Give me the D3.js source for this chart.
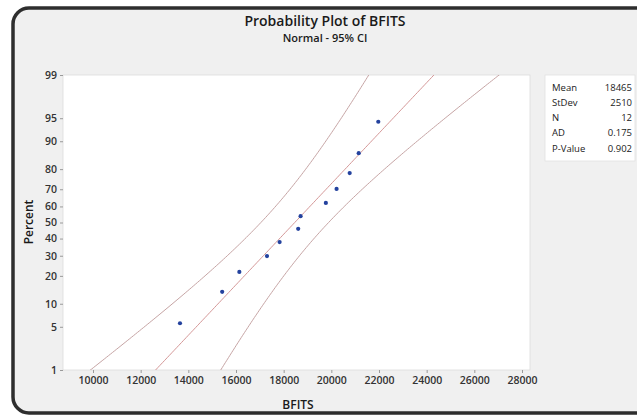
<!DOCTYPE html>
<html>
<head>
<meta charset="utf-8">
<script src="https://cdn.jsdelivr.net/npm/d3@7"></script>
<style>
  html, body { margin: 0; padding: 0; background: #ffffff; }
  svg { display: block; font-family: "Open Sans", "Segoe UI", sans-serif; }
</style>
</head>
<body>
<svg id="chart" width="637" height="418"></svg>
<script>
// Observed BFITS values (sorted) and their plotting positions (median ranks, %)
const bfits = [13650, 15420, 16140, 17300, 17830, 18610, 18710, 19770, 20220, 20770, 21150, 21970];
const percents = [5.6, 13.7, 21.8, 29.8, 37.9, 46.0, 54.0, 62.1, 70.2, 78.2, 86.3, 94.4];

// Fitted normal distribution and summary statistics
const fitMean = 18465;
const fitStDev = 2510;
const sampleN = 12;
const statLabels = ["Mean", "StDev", "N", "AD", "P-Value"];
const statValues = ["18465", "2510", "12", "0.175", "0.902"];

// Axis ticks
const xTicks = [10000, 12000, 14000, 16000, 18000, 20000, 22000, 24000, 26000, 28000];
const yTicks = [1, 5, 10, 20, 30, 40, 50, 60, 70, 80, 90, 95, 99];

// Inverse standard normal CDF (Acklam's rational approximation)
function normInv(p) {
  const a = [-3.969683028665376e+01, 2.209460984245205e+02, -2.759285104469687e+02, 1.383577518672690e+02, -3.066479806614716e+01, 2.506628277459239e+00];
  const b = [-5.447609879822406e+01, 1.615858368580409e+02, -1.556989798598866e+02, 6.680131188771972e+01, -1.328068155288572e+01];
  const c = [-7.784894002430293e-03, -3.223964580411365e-01, -2.400758277161838e+00, -2.549732539343734e+00, 4.374664141464968e+00, 2.938163982698783e+00];
  const d = [7.784695709041462e-03, 3.224671290700398e-01, 2.445134137142996e+00, 3.754408661907416e+00];
  const pl = 0.02425, ph = 1 - pl;
  let q, r;
  if (p < pl) {
    q = Math.sqrt(-2 * Math.log(p));
    return (((((c[0]*q+c[1])*q+c[2])*q+c[3])*q+c[4])*q+c[5]) / ((((d[0]*q+d[1])*q+d[2])*q+d[3])*q+1);
  } else if (p <= ph) {
    q = p - 0.5; r = q * q;
    return (((((a[0]*r+a[1])*r+a[2])*r+a[3])*r+a[4])*r+a[5])*q / (((((b[0]*r+b[1])*r+b[2])*r+b[3])*r+b[4])*r+1);
  } else {
    q = Math.sqrt(-2 * Math.log(1 - p));
    return -(((((c[0]*q+c[1])*q+c[2])*q+c[3])*q+c[4])*q+c[5]) / ((((d[0]*q+d[1])*q+d[2])*q+d[3])*q+1);
  }
}

const svg = d3.select("#chart");

// Outer rounded frame
svg.append("rect")
  .attr("x", 13).attr("y", 8).attr("width", 640).attr("height", 405)
  .attr("rx", 16).attr("ry", 16)
  .attr("fill", "#f0f0f0").attr("stroke", "#2e2e2e").attr("stroke-width", 3.5);

// Plot area
const plot = { left: 63, right: 530, top: 75, bottom: 370 };
svg.append("rect")
  .attr("x", plot.left).attr("y", plot.top)
  .attr("width", plot.right - plot.left).attr("height", plot.bottom - plot.top)
  .attr("fill", "#ffffff").attr("stroke", "#dcdcdc").attr("stroke-width", 0.8);

const x = d3.scaleLinear().domain([10000, 28000]).range([93, 522]);
const zMin = normInv(0.01), zMax = normInv(0.99);
const y = d3.scaleLinear().domain([zMin, zMax]).range([plot.bottom, plot.top]);
const yPct = p => y(normInv(p / 100));

// Titles
svg.append("text").attr("x", 325).attr("y", 26).attr("text-anchor", "middle")
  .attr("font-size", 14).attr("font-weight", 600).attr("fill", "#1a1a1a")
  .text("Probability Plot of BFITS");
svg.append("text").attr("x", 325).attr("y", 42).attr("text-anchor", "middle")
  .attr("font-size", 11).attr("font-weight", 600).attr("fill", "#1a1a1a")
  .text("Normal - 95% CI");

// X axis
const xAxis = d3.axisBottom(x).tickValues(xTicks).tickFormat(d3.format("d")).tickSize(3).tickPadding(4);
const gx = svg.append("g").attr("transform", `translate(0,${plot.bottom})`).call(xAxis);
gx.select(".domain").remove();
gx.selectAll("line").attr("stroke", "#9a9a9a");
gx.selectAll("text").attr("font-size", 10.5).attr("font-weight", 600).attr("fill", "#333")
  .attr("font-family", "\"Open Sans\", sans-serif");

// Y axis (normal probability scale)
const yAxis = d3.axisLeft(y).tickValues(yTicks.map(p => normInv(p / 100)))
  .tickFormat((d, i) => yTicks[i]).tickSize(3).tickPadding(3);
const gy = svg.append("g").attr("transform", `translate(${plot.left},0)`).call(yAxis);
gy.select(".domain").remove();
gy.selectAll("line").attr("stroke", "#9a9a9a");
gy.selectAll("text").attr("font-size", 10.5).attr("font-weight", 600).attr("fill", "#333")
  .attr("font-family", "\"Open Sans\", sans-serif");

// Axis titles
svg.append("text").attr("x", 298).attr("y", 409).attr("text-anchor", "middle")
  .attr("font-size", 12).attr("font-weight", 600).attr("fill", "#1a1a1a").text("BFITS");
svg.append("text").attr("transform", `translate(33,222) rotate(-90)`).attr("text-anchor", "middle")
  .attr("font-size", 12).attr("font-weight", 600).attr("fill", "#1a1a1a").text("Percent");

// Clip for fitted line and confidence bands
svg.append("clipPath").attr("id", "plotClip").append("rect")
  .attr("x", plot.left).attr("y", plot.top)
  .attr("width", plot.right - plot.left).attr("height", plot.bottom - plot.top);

const zs = d3.range(0, 201).map(i => zMin - 0.3 + (zMax - zMin + 0.6) * i / 200);
const half = z => 1.96 * fitStDev * Math.sqrt(1 / sampleN + z * z / (2 * sampleN));
const fitLine = zs.map(z => [fitMean + fitStDev * z, z]);
const loBand = zs.map(z => [fitMean + fitStDev * z - half(z), z]);
const hiBand = zs.map(z => [fitMean + fitStDev * z + half(z), z]);
const line = d3.line().x(d => x(d[0])).y(d => y(d[1])).curve(d3.curveLinear);

const gl = svg.append("g").attr("clip-path", "url(#plotClip)");
[loBand, hiBand].forEach(band => {
  gl.append("path").attr("d", line(band)).attr("fill", "none")
    .attr("stroke", "#c6a4a4").attr("stroke-width", 1);
});
gl.append("path").attr("d", line(fitLine)).attr("fill", "none")
  .attr("stroke", "#d49696").attr("stroke-width", 1);

// Data points
svg.append("g").selectAll("circle").data(bfits).join("circle")
  .attr("cx", d => x(d)).attr("cy", (d, i) => yPct(percents[i]))
  .attr("r", 2.1).attr("fill", "#24429e");

// Summary statistics box
const box = { x: 545, y: 75, w: 90, h: 86 };
svg.append("rect").attr("x", box.x).attr("y", box.y).attr("width", box.w).attr("height", box.h)
  .attr("fill", "#ffffff").attr("stroke", "#e2e2e2").attr("stroke-width", 0.8);
const gs = svg.append("g");
statLabels.forEach((lab, i) => {
  const yy = 90.5 + i * 15.3;
  gs.append("text").attr("x", 552).attr("y", yy).attr("font-size", 9.5)
    .attr("fill", "#222").text(lab);
  gs.append("text").attr("x", 632).attr("y", yy).attr("font-size", 9.5)
    .attr("text-anchor", "end").attr("fill", "#222").text(statValues[i]);
});
</script>
</body>
</html>
